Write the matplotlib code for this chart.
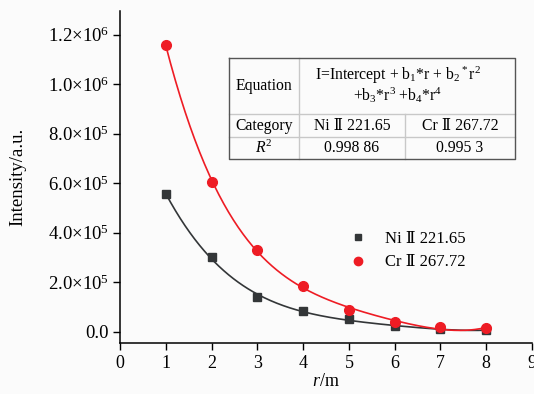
import numpy as np
import matplotlib
matplotlib.use("Agg")
import matplotlib.pyplot as plt
from matplotlib.lines import Line2D
from matplotlib.ticker import FuncFormatter

plt.rcParams['font.family'] = ['Liberation Serif', 'DejaVu Serif']
plt.rcParams['mathtext.fontset'] = 'custom'
plt.rcParams['mathtext.rm'] = 'Liberation Serif'
plt.rcParams['mathtext.it'] = 'Liberation Serif:italic'

# data
r = np.array([1, 2, 3, 4, 5, 6, 7, 8])
ni = np.array([5.56e5, 3.02e5, 1.41e5, 0.86e5, 0.50e5, 0.22e5, 0.11e5, 0.07e5])
cr = np.array([1.159e6, 6.03e5, 3.32e5, 1.85e5, 0.90e5, 0.40e5, 0.20e5, 0.15e5])
ni_label = 'Ni Ⅱ 221.65'
cr_label = 'Cr Ⅱ 267.72'
r2_ni = '0.998 86'
r2_cr = '0.995 3'

ni_col = '#333638'
cr_col = '#ee1c24'
bg = '#fbfbfb'

W, H = 534, 394
fig = plt.figure(figsize=(W / 100, H / 100), dpi=100, facecolor=bg)
ax = fig.add_axes([120 / W, 51 / H, 412 / W, 332 / H], facecolor=bg)

# 4th order polynomial fits
rr = np.linspace(1, 8, 200)
ax.plot(rr, np.polyval(np.polyfit(r, ni, 4), rr), color=ni_col, lw=1.2)
ax.plot(rr, np.polyval(np.polyfit(r, cr, 4), rr), color=cr_col, lw=1.2)
ax.plot(r, ni, 's', color=ni_col, ms=6, label=ni_label)
ax.plot(r, cr, 'o', color=cr_col, ms=7, label=cr_label)

ax.set_xlim(0, 9)
ax.set_ylim(-0.45e5, 1.295e6)
ax.set_xticks(range(10))
ax.set_yticks(np.arange(0, 1.3e6, 2e5))


def fmt(v, pos):
    if v == 0:
        return '0.0'
    e = int(np.floor(np.log10(v)))
    return r'%.1f$\times$10$^{%d}$' % (v / 10 ** e, e)


ax.yaxis.set_major_formatter(FuncFormatter(fmt))
ax.tick_params(axis='x', labelsize=13, direction='out', length=5, width=1, pad=4)
ax.tick_params(axis='y', labelsize=13.5, direction='out', length=5, width=1, pad=3)
for s in ['top', 'right']:
    ax.spines[s].set_visible(False)
for s in ['left', 'bottom']:
    ax.spines[s].set_linewidth(1.1)

ax.set_xlabel(r'$\it{r}$/m', fontsize=13, labelpad=0)
ax.set_ylabel('Intensity/a.u.', fontsize=13.5)
ax.yaxis.set_label_coords((26 - 120) / 412, 0.5)

handles = [Line2D([], [], ls='none', marker='s', color=ni_col, ms=5),
           Line2D([], [], ls='none', marker='o', color=cr_col, ms=6)]
ax.legend(handles, [ni_label, cr_label], loc='upper left',
          bbox_to_anchor=((345 - 120) / 412, (343 - 226) / 332), frameon=False,
          fontsize=12, handlelength=0.9, handletextpad=1.2, labelspacing=0.45,
          borderaxespad=0, borderpad=0.3)

# table drawn in figure pixel coordinates
def fx(x):
    return x / W


def fy(y):
    return 1 - y / H


L, R, T, B = 229, 515, 58, 159
c1, c2 = 299, 405
r1, r2 = 114, 137
light = '#c8c8c8'
dark = '#555555'
tl = []
tl.append(Line2D([fx(c1), fx(c1)], [fy(T), fy(B)], color=light, lw=1))
tl.append(Line2D([fx(c2), fx(c2)], [fy(r1), fy(B)], color=light, lw=1))
tl.append(Line2D([fx(L), fx(R)], [fy(r1), fy(r1)], color=light, lw=1))
tl.append(Line2D([fx(L), fx(R)], [fy(r2), fy(r2)], color=light, lw=1))
tl.append(Line2D([fx(L), fx(R), fx(R), fx(L), fx(L)],
                 [fy(T), fy(T), fy(B), fy(B), fy(T)], color=dark, lw=1))
for ln in tl:
    ln.set_transform(fig.transFigure)
    fig.add_artist(ln)

ts = 11.3
fig.text(fx((L + c1) / 2), fy((T + r1) / 2), 'Equation', ha='center', va='center', fontsize=ts)
fig.text(fx(398), fy(75), r'I=Intercept + b$_1$*r + b$_2$$^*$r$^2$',
         ha='center', va='center', fontsize=ts)
fig.text(fx(398), fy(95), r'+b$_3$*r$^3$ +b$_4$*r$^4$',
         ha='center', va='center', fontsize=ts)
fig.text(fx((L + c1) / 2), fy((r1 + r2) / 2), 'Category', ha='center', va='center', fontsize=ts)
fig.text(fx((c1 + c2) / 2), fy((r1 + r2) / 2), ni_label, ha='center', va='center', fontsize=ts)
fig.text(fx((c2 + R) / 2), fy((r1 + r2) / 2), cr_label, ha='center', va='center', fontsize=ts)
fig.text(fx((L + c1) / 2), fy((r2 + B) / 2), r'$\it{R}^2$', ha='center', va='center', fontsize=ts)
fig.text(fx((c1 + c2) / 2), fy((r2 + B) / 2), r2_ni, ha='center', va='center', fontsize=ts)
fig.text(fx((c2 + R) / 2), fy((r2 + B) / 2), r2_cr, ha='center', va='center', fontsize=ts)

fig.savefig('out.png', dpi=100, facecolor=bg)
